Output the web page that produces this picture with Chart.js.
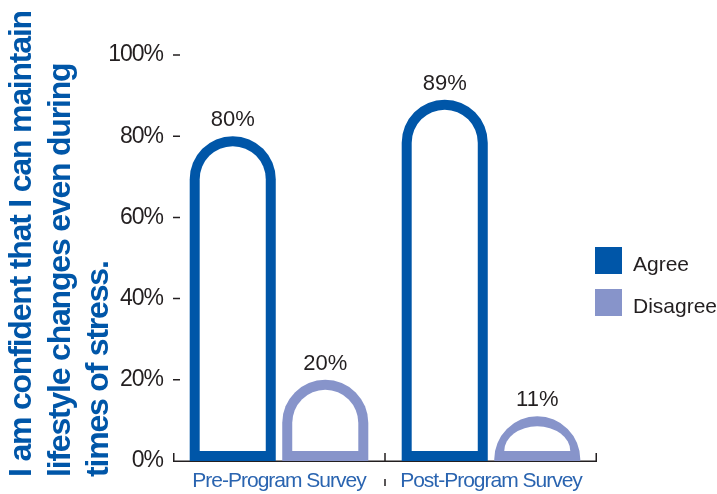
<!DOCTYPE html>
<html><head><meta charset="utf-8">
<script src="https://cdn.jsdelivr.net/npm/chart.js@4.4.1/dist/chart.umd.min.js"></script>
<style>html,body{margin:0;padding:0;background:#fff;overflow:hidden;}</style>
</head><body>
<canvas id="c" width="717" height="494" style="width:717px;height:494px;display:block"></canvas>
<script>
const categories = ['Pre-Program Survey', 'Post-Program Survey'];
const seriesNames = ['Agree', 'Disagree'];
const agreeValues = [80, 89];
const disagreeValues = [20, 11];
const yTickValues = [0, 20, 40, 60, 80, 100];
const titleLines = ['I am confident that I can maintain', 'lifestyle changes even during', 'times of stress.'];
const seriesColors = ['#0056a8', '#8794ca'];

const FONT = '"Liberation Sans", Arial, sans-serif';
const TEXT = '#231f20';
const BW = 10;

function setSpacing(ctx, v) { try { ctx.letterSpacing = v; } catch (e) {} }

function domePath(ctx, l, r, t, b) {
  const w = r - l, rx = w / 2, h = b - t;
  ctx.beginPath();
  if (h >= rx) {
    ctx.moveTo(l, b);
    ctx.lineTo(l, t + rx);
    ctx.arc(l + rx, t + rx, rx, Math.PI, 0);
    ctx.lineTo(r, b);
  } else {
    ctx.moveTo(l, b);
    ctx.ellipse(l + rx, b, rx, Math.max(h, 0), 0, Math.PI, 2 * Math.PI);
  }
  ctx.closePath();
}

const customDraw = {
  id: 'customDraw',
  beforeDraw(chart) {
    // tighter tracking for the axis tick labels drawn by Chart.js
    setSpacing(chart.ctx, '-1px');
  },
  beforeDatasetsDraw(chart) {
    const ctx = chart.ctx, a = chart.chartArea;
    const xs = chart.scales.x, ys = chart.scales.y;
    ctx.save();
    ctx.strokeStyle = TEXT;
    ctx.lineWidth = 1.5;
    ctx.beginPath();
    ctx.moveTo(a.left, a.bottom + 0.25);
    ctx.lineTo(a.right, a.bottom + 0.25);
    const mid = (xs.getPixelForValue(0) + xs.getPixelForValue(1)) / 2;
    [a.left + 0.75, mid, a.right - 0.75].forEach(px => {
      ctx.moveTo(px, a.bottom + 1);
      ctx.lineTo(px, a.bottom - 8);
    });
    ctx.moveTo(mid, a.bottom + 18);
    ctx.lineTo(mid, a.bottom + 25);
    yTickValues.forEach(v => {
      if (v === 0) return;
      const py = ys.getPixelForValue(v);
      ctx.moveTo(a.left, py);
      ctx.lineTo(a.left + 7, py);
    });
    ctx.stroke();
    ctx.restore();
  },
  afterDatasetsDraw(chart) {
    const ctx = chart.ctx;
    ctx.save();
    setSpacing(ctx, '0px');
    chart.data.datasets.forEach((ds, di) => {
      const meta = chart.getDatasetMeta(di);
      meta.data.forEach((el, i) => {
        const p = el.getProps(['x', 'y', 'base', 'width'], true);
        const l = p.x - p.width / 2, r = p.x + p.width / 2, t = p.y, b = p.base;
        domePath(ctx, l, r, t, b);
        ctx.fillStyle = seriesColors[di];
        ctx.fill();
        domePath(ctx, l + BW, r - BW, t + BW, b - BW);
        ctx.fillStyle = '#ffffff';
        ctx.fill();
        ctx.fillStyle = TEXT;
        ctx.font = '22px ' + FONT;
        ctx.textAlign = 'center';
        ctx.textBaseline = 'alphabetic';
        ctx.fillText(ds.data[i] + '%', p.x, t - 10);
      });
    });
    ctx.restore();
  },
  afterDraw(chart) {
    const ctx = chart.ctx;
    ctx.save();
    ctx.fillStyle = '#0056a8';
    ctx.font = 'bold 32px ' + FONT;
    setSpacing(ctx, '-1.2px');
    ctx.textAlign = 'left';
    ctx.textBaseline = 'alphabetic';
    titleLines.forEach((line, i) => {
      ctx.save();
      ctx.translate(31 + i * 38.7, 477);
      ctx.rotate(-Math.PI / 2);
      ctx.fillText(line, 0, 0);
      ctx.restore();
    });
    setSpacing(ctx, '0px');
    ctx.font = '21px ' + FONT;
    seriesNames.forEach((name, i) => {
      const top = 247 + i * 42;
      ctx.fillStyle = seriesColors[i];
      ctx.fillRect(595, top, 27, 27);
      ctx.fillStyle = TEXT;
      ctx.fillText(name, 633, top + 24);
    });
    ctx.restore();
  }
};

new Chart(document.getElementById('c'), {
  type: 'bar',
  data: {
    labels: categories,
    datasets: [
      { label: seriesNames[0], data: agreeValues, backgroundColor: 'rgba(0,0,0,0)', borderWidth: 0 },
      { label: seriesNames[1], data: disagreeValues, backgroundColor: 'rgba(0,0,0,0)', borderWidth: 0 }
    ]
  },
  options: {
    responsive: false,
    animation: false,
    devicePixelRatio: 1,
    categoryPercentage: 0.873,
    barPercentage: 0.93,
    layout: { padding: { left: 110, right: 120, top: 55, bottom: 0 } },
    plugins: { legend: { display: false }, tooltip: { enabled: false } },
    scales: {
      x: {
        offset: true,
        grid: { display: false, drawTicks: false },
        border: { display: false },
        afterFit: s => { s.height = 33; },
        ticks: { font: { family: FONT, size: 21 }, color: '#2a64b0', padding: 8 }
      },
      y: {
        min: 0, max: 100,
        afterBuildTicks: s => { s.ticks = yTickValues.map(v => ({ value: v })); },
        grid: { display: false, drawTicks: false },
        border: { display: false },
        afterFit: s => { s.width = 63; },
        ticks: { font: { family: FONT, size: 23 }, color: TEXT, padding: 10, callback: v => v + '%' }
      }
    }
  },
  plugins: [customDraw]
});
</script>
</body></html>
